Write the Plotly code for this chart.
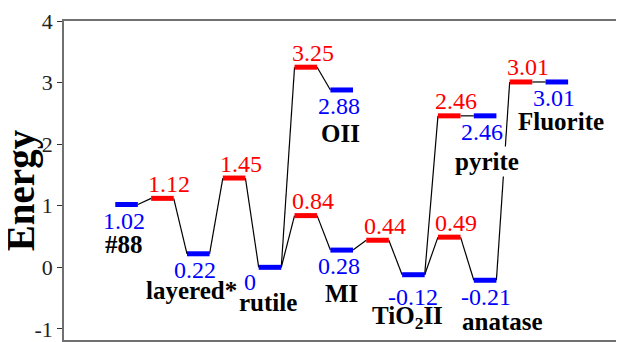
import plotly.graph_objects as go

# ---- data ----
level_slot = [0, 1, 2, 3, 4, 5, 6, 5, 6, 7, 8, 9, 10, 9, 10, 11, 12]
level_energy = [1.02, 1.12, 0.22, 1.45, 0.00, 3.25, 2.88, 0.84, 0.28, 0.44,
                -0.12, 2.46, 2.46, 0.49, -0.21, 3.01, 3.01]
level_kind = ["min", "ts", "min", "ts", "min", "ts", "min", "ts", "min", "ts",
              "min", "ts", "min", "ts", "min", "ts", "min"]
level_text = ["1.02", "1.12", "0.22", "1.45", "0", "3.25", "2.88", "0.84", "0.28",
              "0.44", "-0.12", "2.46", "2.46", "0.49", "-0.21", "3.01", "3.01"]
edge_from = [0, 1, 2, 3, 4, 5, 4, 7, 8, 9, 10, 11, 10, 13, 14, 15]
edge_to = [1, 2, 3, 4, 5, 6, 7, 8, 9, 10, 11, 12, 13, 14, 15, 16]
phase_names = ["#88", "layered*", "rutile", "OII", "MI", "TiO<sub>2</sub>II",
               "pyrite", "anatase", "Fluorite"]
phase_level = [0, 2, 4, 6, 8, 10, 12, 14, 16]
y_ticks = [-1, 0, 1, 2, 3, 4]
y_tick_labels = ["-1", "0", "1", "2", "3", "4"]

# ---- style ----
HALF = 0.315
RED = "#ff0000"
BLUE = "#0000ff"
FONT = "Liberation Serif, Times New Roman, DejaVu Serif, serif"
value_shift = {"ts": (7, 14.5), "min": (-3, -16)}
value_shift_special = {4: (-20, -14.5), 10: (0, -22.5), 14: (1, -16.7)}
name_shift = [(-2.7, -39.5), (-6.6, -36.7), (-2, -35), (-1, -44), (0, -43.4),
              (-6, -42.4), (2, -46), (17, -41), (4, -39.5)]

fig = go.Figure()

# connectors
cx, cy = [], []
for a, b in zip(edge_from, edge_to):
    cx += [level_slot[a] + HALF, level_slot[b] - HALF, None]
    cy += [level_energy[a], level_energy[b], None]
fig.add_trace(go.Scatter(x=cx, y=cy, mode="lines",
                         line=dict(color="black", width=1.2),
                         hoverinfo="skip", showlegend=False))

# levels
for kind, col in (("min", BLUE), ("ts", RED)):
    lx, ly = [], []
    for s, e, k in zip(level_slot, level_energy, level_kind):
        if k == kind:
            lx += [s - HALF, s + HALF, None]
            ly += [e, e, None]
    fig.add_trace(go.Scatter(x=lx, y=ly, mode="lines",
                             line=dict(color=col, width=5),
                             hoverinfo="skip", showlegend=False))

annotations = []
for i, (s, e, k, t) in enumerate(zip(level_slot, level_energy, level_kind, level_text)):
    dx, dy = value_shift_special.get(i, value_shift[k])
    annotations.append(dict(x=s, y=e, xref="x", yref="y", text=t, showarrow=False,
                            xshift=dx, yshift=dy, xanchor="center", yanchor="middle",
                            font=dict(family=FONT, size=24,
                                      color=RED if k == "ts" else BLUE)))
for name, li, (dx, dy) in zip(phase_names, phase_level, name_shift):
    annotations.append(dict(x=level_slot[li], y=level_energy[li], xref="x", yref="y",
                            text="<b>" + name + "</b>", showarrow=False,
                            xshift=dx, yshift=dy, xanchor="center", yanchor="middle",
                            bgcolor="white" if name == "pyrite" else None,
                            font=dict(family=FONT, size=25, color="black")))
annotations.append(dict(x=-0.077, y=0.47, xref="paper", yref="paper",
                        text="<b>Energy</b>", textangle=-90, showarrow=False,
                        xanchor="center", yanchor="middle",
                        font=dict(family=FONT, size=39, color="black")))

# page body has an 8px default margin: figure is sized/offset to compensate
fig.update_layout(
    width=616, height=334,
    margin=dict(l=56, r=2, t=8, b=1),
    paper_bgcolor="white", plot_bgcolor="white",
    annotations=annotations,
    xaxis=dict(range=[-1.745, 13.79], showticklabels=False, ticks="",
               showgrid=False, zeroline=False, showline=True, mirror=True,
               linecolor="#707070", linewidth=1.5),
    yaxis=dict(range=[-1.18, 4.0], tickvals=y_ticks, ticktext=y_tick_labels,
               ticks="outside", ticklen=5,
               tickwidth=1.2, tickcolor="#333333", ticklabeloverflow="allow",
               tickfont=dict(family=FONT, size=22, color="#222222"),
               showgrid=False, zeroline=False, showline=True, mirror=True,
               linecolor="#707070", linewidth=1.5),
)

fig.write_html("out.html")
